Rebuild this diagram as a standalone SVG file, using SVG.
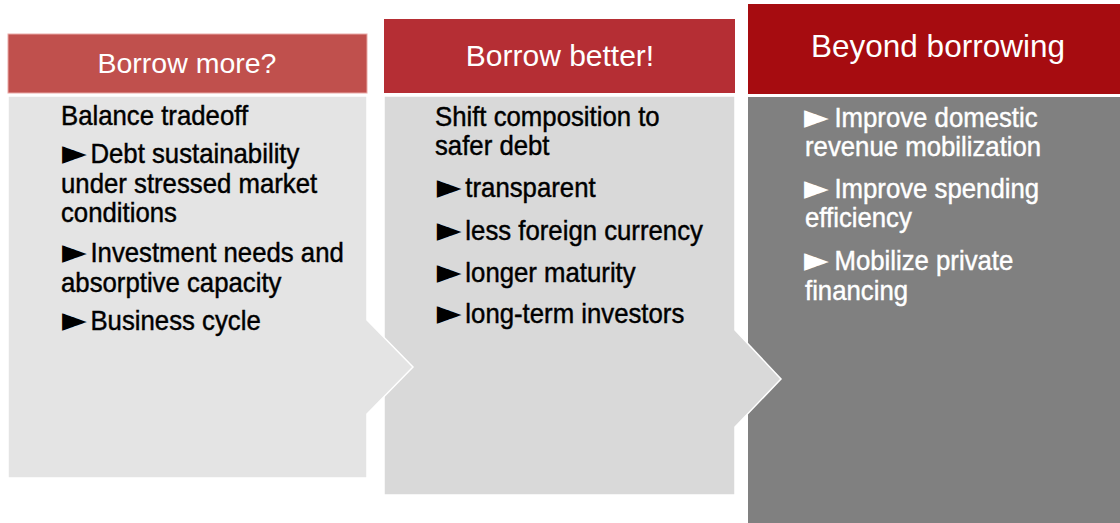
<svg xmlns="http://www.w3.org/2000/svg" width="1120" height="523" viewBox="0 0 1120 523">
  <style>
    .head { font-family: "Liberation Sans", Arial, sans-serif; fill: #ffffff; text-anchor: middle; }
    .body { font-family: "Liberation Sans", Arial, sans-serif; font-size: 28px; stroke-width: 0.45; }
    .dark { fill: #000000; stroke: #000000; }
    .light { fill: #ffffff; stroke: #ffffff; }
    .mark { font-family: "DejaVu Sans", sans-serif; font-size: 35px; stroke-width: 0; }
    .edge { stroke: #ffffff; stroke-width: 1.5; }
  </style>
  <rect width="1120" height="523" fill="#ffffff"/>

  <!-- Third step: beyond borrowing -->
  <g id="panel-beyond-borrowing">
    <rect x="748" y="97" width="372" height="426" fill="#808080"/>
    <rect x="748" y="4" width="372" height="90" fill="#A60C10"/>
    <text class="head" x="938" y="57" font-size="31.5">Beyond borrowing</text>
    <g transform="translate(805,0) scale(0.92,1)">
      <text class="body light" y="127"><tspan class="mark" x="-1" dy="1.5">►</tspan><tspan x="32" dy="-1.5">Improve domestic</tspan></text>
      <text class="body light" x="0" y="156">revenue mobilization</text>
      <text class="body light" y="198"><tspan class="mark" x="-1" dy="1.5">►</tspan><tspan x="32" dy="-1.5">Improve spending</tspan></text>
      <text class="body light" x="0" y="227">efficiency</text>
      <text class="body light" y="270"><tspan class="mark" x="-1" dy="1.5">►</tspan><tspan x="32" dy="-1.5">Mobilize private</tspan></text>
      <text class="body light" x="0" y="300">financing</text>
    </g>
  </g>

  <!-- Second step: borrow better -->
  <g id="panel-borrow-better">
    <polygon class="edge" points="384,96 735,96 735,330 781,379 735,427 735,495 384,495" fill="#D9D9D9"/>
    <rect x="384" y="19" width="351" height="74" fill="#B52E34"/>
    <text class="head" x="560" y="66" font-size="30">Borrow better!</text>
    <g transform="translate(435,0) scale(0.92,1)">
      <text class="body dark" x="0" y="126">Shift composition to</text>
      <text class="body dark" x="0" y="155">safer debt</text>
      <text class="body dark" y="197"><tspan class="mark" x="2" dy="1.5">►</tspan><tspan x="33" dy="-1.5">transparent</tspan></text>
      <text class="body dark" y="240"><tspan class="mark" x="2" dy="1.5">►</tspan><tspan x="33" dy="-1.5">less foreign currency</tspan></text>
      <text class="body dark" y="282"><tspan class="mark" x="2" dy="1.5">►</tspan><tspan x="33" dy="-1.5">longer maturity</tspan></text>
      <text class="body dark" y="323"><tspan class="mark" x="2" dy="1.5">►</tspan><tspan x="33" dy="-1.5">long-term investors</tspan></text>
    </g>
  </g>

  <!-- First step: borrow more -->
  <g id="panel-borrow-more">
    <polygon class="edge" points="8,96 367,96 367,320 413,367 367,414 367,478 8,478" fill="#E4E4E4"/>
    <rect x="8" y="34" width="359" height="59" fill="#C0504D" stroke="#E9A9A7" stroke-width="1"/>
    <text class="head" x="187" y="73" font-size="28.5">Borrow more?</text>
    <g transform="translate(61,0) scale(0.92,1)">
      <text class="body dark" x="0" y="125">Balance tradeoff</text>
      <text class="body dark" y="163"><tspan class="mark" x="1" dy="1.5">►</tspan><tspan x="32" dy="-1.5">Debt sustainability</tspan></text>
      <text class="body dark" x="0" y="193">under stressed market</text>
      <text class="body dark" x="0" y="222">conditions</text>
      <text class="body dark" y="262"><tspan class="mark" x="1" dy="1.5">►</tspan><tspan x="32" dy="-1.5">Investment needs and</tspan></text>
      <text class="body dark" x="0" y="292">absorptive capacity</text>
      <text class="body dark" y="330"><tspan class="mark" x="1" dy="1.5">►</tspan><tspan x="32" dy="-1.5">Business cycle</tspan></text>
    </g>
  </g>
</svg>
